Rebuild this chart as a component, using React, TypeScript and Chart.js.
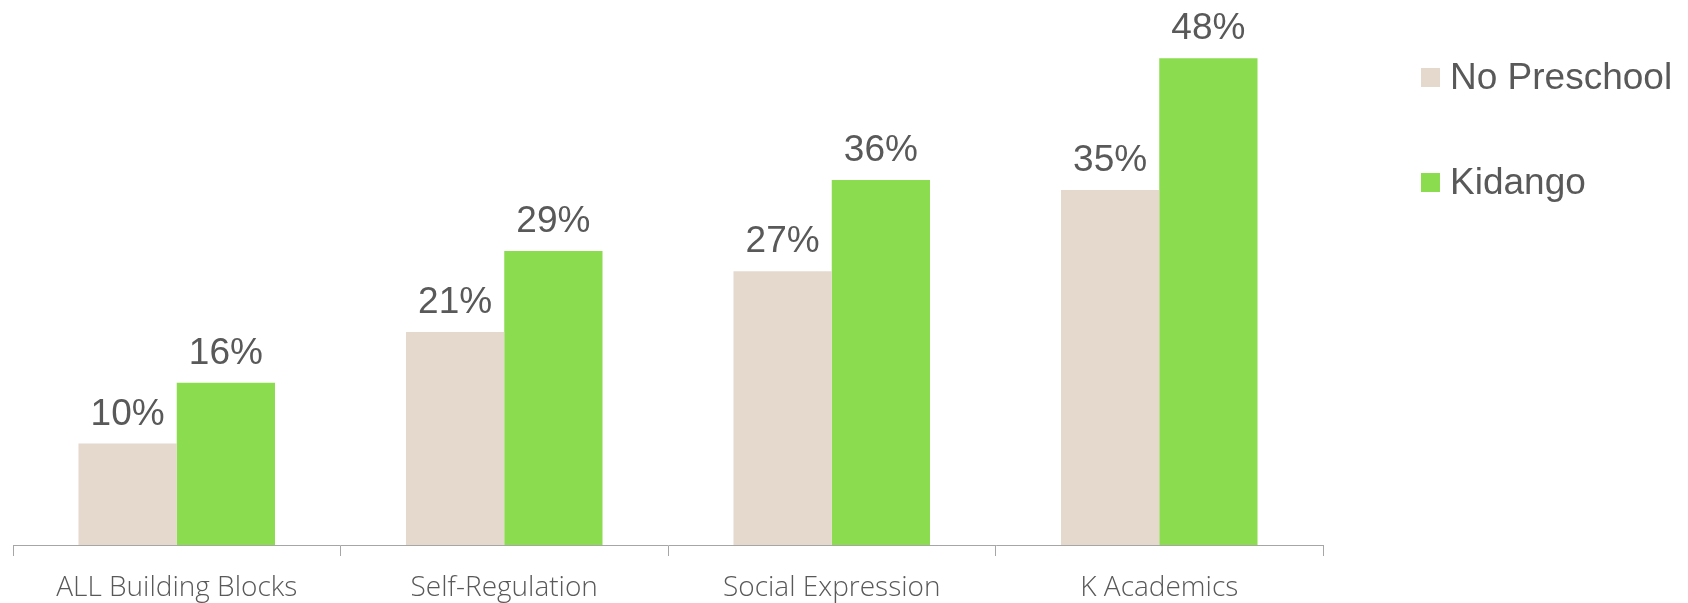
import React, { useEffect, useRef } from "react";
import { Chart, registerables } from "chart.js";

Chart.register(...registerables);

const categories = ["ALL Building Blocks", "Self-Regulation", "Social Expression", "K Academics"];
const noPreschool = [10, 21, 27, 35];
const kidango = [16, 29, 36, 48];
const seriesNames = ["No Preschool", "Kidango"];
const seriesColors = ["#E5D8CC", "#8BDC4E"];

const valueLabels = {
  id: "valueLabels",
  afterDatasetsDraw(chart: any) {
    const ctx = chart.ctx;
    ctx.save();
    ctx.font = "37px 'Liberation Sans', Arial, sans-serif";
    ctx.fillStyle = "#595959";
    ctx.textAlign = "center";
    ctx.textBaseline = "alphabetic";
    chart.data.datasets.forEach((ds: any, i: number) => {
      const meta = chart.getDatasetMeta(i);
      meta.data.forEach((bar: any, j: number) => {
        ctx.fillText(ds.data[j] + "%", bar.x, bar.y - 19);
      });
    });
    ctx.restore();
  },
};

export default function App() {
  const ref = useRef<HTMLCanvasElement>(null);
  useEffect(() => {
    document.body.style.margin = "0";
    const chart = new Chart(ref.current!, {
      type: "bar",
      data: {
        labels: categories,
        datasets: [
          { label: seriesNames[0], data: noPreschool, backgroundColor: seriesColors[0] },
          { label: seriesNames[1], data: kidango, backgroundColor: seriesColors[1] },
        ],
      },
      options: {
        animation: false,
        responsive: true,
        maintainAspectRatio: false,
        layout: { padding: { top: 38, left: 13, right: 365, bottom: 0 } },
        plugins: { legend: { display: false }, tooltip: { enabled: false } },
        datasets: { bar: { categoryPercentage: 0.6, barPercentage: 1 } },
        scales: {
          x: {
            grid: {
              offset: true,
              drawOnChartArea: false,
              drawTicks: true,
              tickLength: 11,
              color: "#A6A6A6",
            },
            border: { color: "#A6A6A6", width: 1 },
            ticks: {
              color: "#595959",
              padding: 15,
              font: { family: "'Open Sans', sans-serif", size: 28, weight: "300" as any },
            },
            afterFit(scale: any) {
              scale.height = 58;
            },
          },
          y: { display: false, min: 0, max: 50 },
        },
      },
      plugins: [valueLabels],
    });
    return () => chart.destroy();
  }, []);

  const legendItem = (i: number, top: number) => (
    <div
      style={{
        position: "absolute",
        left: 1421,
        top,
        display: "flex",
        alignItems: "center",
        fontFamily: "'Liberation Sans', Arial, sans-serif",
        fontSize: 37,
        color: "#595959",
        lineHeight: "40px",
      }}
    >
      <span style={{ display: "inline-block", width: 19, height: 19, background: seriesColors[i], marginRight: 10 }} />
      <span>{seriesNames[i]}</span>
    </div>
  );

  return (
    <div style={{ position: "relative", width: 1688, height: 603 }}>
      <canvas ref={ref} />
      {legendItem(0, 57)}
      {legendItem(1, 162)}
    </div>
  );
}
